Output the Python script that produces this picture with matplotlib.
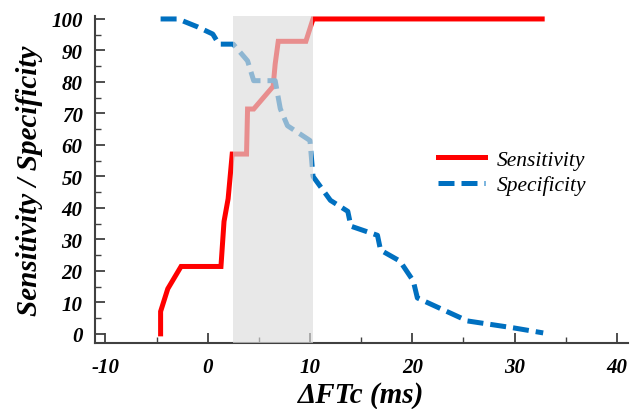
#!/usr/bin/env python3
###
### plot.py
### sensitivity / specificity versus delta FTc

import matplotlib
matplotlib.use('AGG')
import matplotlib.pyplot as plt
from matplotlib.ticker import MultipleLocator

# Sensitivity curve (red, solid)
sens_x = [-4.6, -4.6, -3.9, -2.6, 1.3, 1.6, 2.0, 2.2, 2.4, 3.8, 3.9, 4.5, 6.4, 6.6, 6.9, 9.6, 10.3, 32.7]
sens_y = [0.0, 7.1, 14.3, 21.4, 21.4, 35.7, 42.9, 50.0, 57.1, 57.1, 71.4, 71.4, 78.6, 85.7, 92.9, 92.9, 100.0, 100.0]

# Specificity curve (blue, dashed)
spec_x = [-4.6, -2.9, -1.0, 0.5, 1.1, 2.5, 3.9, 4.5, 6.6, 7.1, 7.8, 10.0, 10.3, 12.0, 13.7,
          14.0, 16.6, 16.9, 18.8, 20.1, 20.5, 25.4, 29.9, 32.8]
spec_y = [100.0, 100.0, 97.5, 95.2, 92.0, 92.0, 86.7, 80.4, 80.4, 71.5, 66.1, 61.4, 50.0, 42.4, 38.9,
          34.2, 31.3, 26.6, 23.1, 16.8, 11.4, 4.1, 1.9, 0.3]

# shaded range
band = (2.5, 10.3)

SERIF = 'Liberation Serif'
plt.rcParams['axes.unicode_minus'] = False

fig = plt.figure(figsize=(6.3, 4.1), dpi=100)
ax = fig.add_axes([0.151, 0.161, 0.846, 0.798])

ax.plot(sens_x, sens_y, color='#ff0000', lw=3.6, label='Sensitivity',
        solid_joinstyle='miter', zorder=2)
ax.plot(spec_x, spec_y, color='#0070c0', lw=3.6, ls=(0, (3.2, 1.4)),
        label='Specificity', zorder=2)

# gray band drawn on top so lines look faded inside it
ax.axvspan(band[0], band[1], color='#dcdcdc', alpha=0.65, lw=0, zorder=3)

ax.set_xlim(-11, 41.1)
ax.set_ylim(-2.9, 101)

ax.xaxis.set_major_locator(MultipleLocator(10))
ax.xaxis.set_minor_locator(MultipleLocator(5))
ax.yaxis.set_major_locator(MultipleLocator(10))
ax.yaxis.set_minor_locator(MultipleLocator(5))

for side in ('top', 'right'):
    ax.spines[side].set_visible(False)
for side in ('left', 'bottom'):
    ax.spines[side].set_color('#404040')
    ax.spines[side].set_linewidth(1.5)

ax.tick_params(which='major', direction='in', length=7, width=1.3, color='#404040')
ax.tick_params(which='minor', direction='in', length=4, width=1.0, color='#404040')
ax.tick_params(axis='x', pad=10)
ax.tick_params(axis='y', pad=9)

for lab in ax.get_xticklabels() + ax.get_yticklabels():
    lab.set_fontfamily(SERIF)
    lab.set_fontweight('bold')
    lab.set_fontstyle('italic')
    lab.set_fontsize(15)

ax.set_xlabel('ΔFTc (ms)', fontfamily=SERIF, fontweight='bold', fontstyle='italic',
              fontsize=21, labelpad=3)
ax.set_ylabel('Sensitivity / Specificity', fontfamily=SERIF, fontweight='bold',
              fontstyle='italic', fontsize=21, labelpad=6)

leg = ax.legend(loc='upper left', bbox_to_anchor=(0.607, 0.65), frameon=False,
                prop={'family': SERIF, 'style': 'italic', 'size': 15.5},
                handlelength=2.2, handletextpad=0.55, labelspacing=0.25)

fig.savefig('out.png', format='png')
plt.close(fig)
